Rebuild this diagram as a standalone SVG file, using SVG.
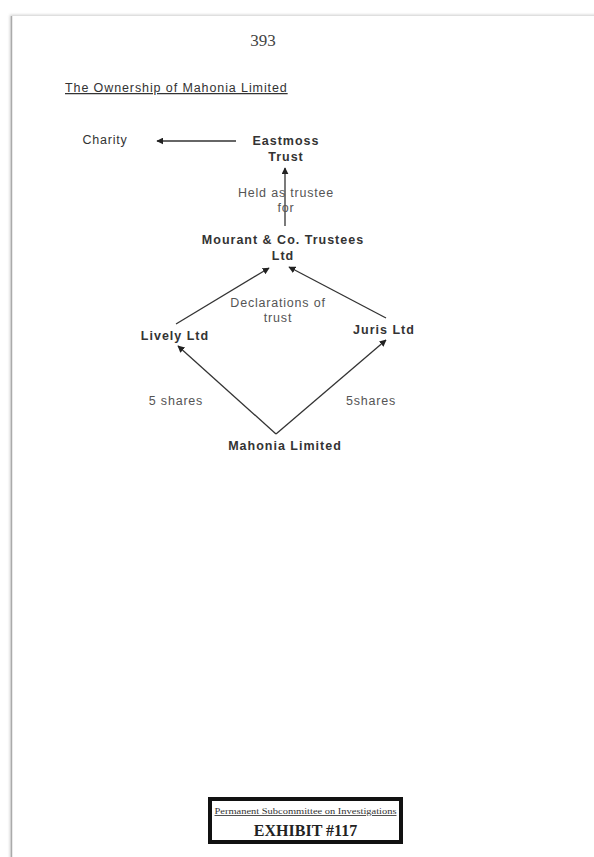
<svg xmlns="http://www.w3.org/2000/svg" width="594" height="857" viewBox="0 0 594 857">
<defs>
<marker id="ah" viewBox="0 0 10 10" refX="9" refY="5" markerWidth="7" markerHeight="7" orient="auto" markerUnits="userSpaceOnUse"><path d="M0,0 L10,5 L0,10 z" fill="#222"/></marker>
<filter id="sh" x="-5%" y="-5%" width="110%" height="110%"><feGaussianBlur stdDeviation="1.5"/></filter>
</defs>
<style>
.n{font-family:"Liberation Sans",Arial,sans-serif;font-size:12.5px;letter-spacing:1px;font-weight:bold;fill:#333;text-anchor:middle}
.l{font-family:"Liberation Sans",Arial,sans-serif;font-size:12.5px;letter-spacing:0.8px;fill:#555;text-anchor:middle}
.c{stroke:#333;stroke-width:1.3;fill:none;marker-end:url(#ah)}
</style>
<rect width="594" height="857" fill="#fff"/>
<g id="page">
<rect x="10" y="15" width="600" height="860" fill="#ccc" filter="url(#sh)"/>
<rect x="11" y="16" width="600" height="860" fill="#fff"/>
<line x1="11.5" y1="16" x2="11.5" y2="857" stroke="#aaa" stroke-width="1.5"/>
</g>
<text x="263" y="46" font-family="Liberation Serif,serif" font-size="17" fill="#444" text-anchor="middle">393</text>
<text x="65" y="92" font-family="Liberation Sans,Arial,sans-serif" font-size="12.5" letter-spacing="0.9" fill="#333" text-decoration="underline">The Ownership of Mahonia Limited</text>
<g id="connectors">
<line class="c" x1="236" y1="141" x2="157" y2="141"/>
<line class="c" x1="285" y1="226" x2="285" y2="168"/>
<line class="c" x1="176" y1="324" x2="269" y2="268"/>
<line class="c" x1="386" y1="318" x2="289" y2="267"/>
<line class="c" x1="276" y1="434" x2="178" y2="346"/>
<line class="c" x1="276" y1="434" x2="386" y2="340"/>
</g>
<g id="charity"><text class="l" x="105" y="144" style="fill:#333">Charity</text></g>
<g id="eastmoss"><text class="n" x="286" y="145">Eastmoss</text><text class="n" x="286" y="161">Trust</text></g>
<g id="held"><text class="l" x="286" y="197">Held as trustee</text><text class="l" x="286" y="212">for</text></g>
<g id="mourant"><text class="n" x="283" y="244">Mourant &amp; Co. Trustees</text><text class="n" x="283" y="260">Ltd</text></g>
<g id="decl"><text class="l" x="278" y="307">Declarations of</text><text class="l" x="278" y="322">trust</text></g>
<g id="lively"><text class="n" x="175" y="340">Lively Ltd</text></g>
<g id="juris"><text class="n" x="384" y="334">Juris Ltd</text></g>
<g id="s1"><text class="l" x="176" y="405">5 shares</text></g>
<g id="s2"><text class="l" x="371" y="405">5shares</text></g>
<g id="mahonia"><text class="n" x="285" y="450">Mahonia Limited</text></g>
<g id="exhibit">
<rect x="210" y="799" width="191" height="43" fill="#fff" stroke="#111" stroke-width="4"/>
<text x="305.5" y="814" font-family="Liberation Serif,serif" font-size="8.5" fill="#333" text-anchor="middle" text-decoration="underline" textLength="182" lengthAdjust="spacingAndGlyphs">Permanent Subcommittee on Investigations</text>
<text x="305.5" y="836" font-family="Liberation Serif,serif" font-size="16" font-weight="bold" fill="#222" text-anchor="middle">EXHIBIT #117</text>
</g>
</svg>
